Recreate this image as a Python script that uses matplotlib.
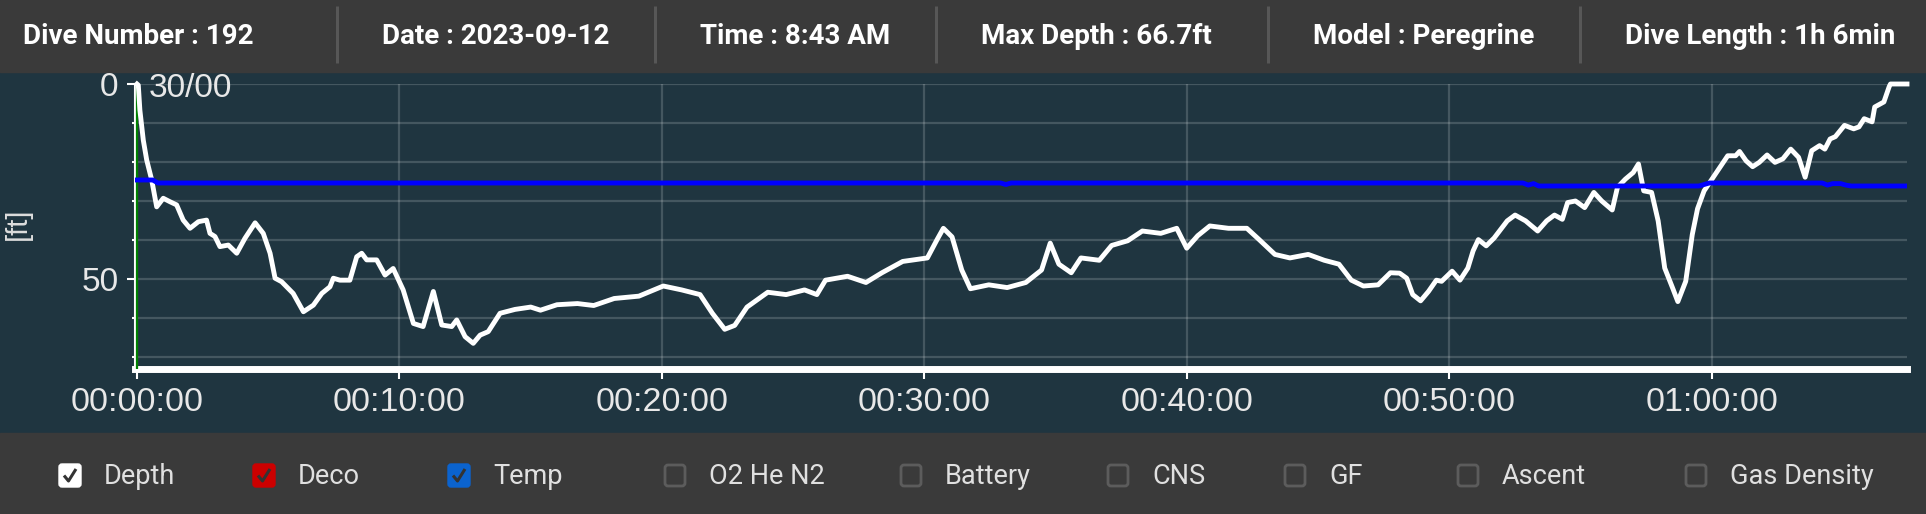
import matplotlib.pyplot as plt
from matplotlib.patches import Rectangle, FancyBboxPatch
from matplotlib.ticker import MultipleLocator, FuncFormatter

# header values
header_items = ['Dive Number : 192', 'Date : 2023-09-12', 'Time : 8:43 AM',
                'Max Depth : 66.7ft', 'Model : Peregrine', 'Dive Length : 1h 6min']

# depth profile (minutes, feet)
depth_t = [0.0, 0.05, 0.11, 0.24, 0.37, 0.56, 0.75, 1.0, 1.26, 1.51, 1.76, 2.02, 2.34, 2.65,
           2.78, 2.97, 3.16, 3.48, 3.8, 4.11, 4.5, 4.81, 5.07, 5.26, 5.51, 5.95, 6.34, 6.72,
           7.04, 7.35, 7.48, 7.73, 8.11, 8.37, 8.56, 8.75, 9.13, 9.45, 9.76, 10.14, 10.53,
           10.9, 11.29, 11.61, 11.99, 12.18, 12.5, 12.81, 13.07, 13.38, 13.83,
           14.4, 15.0, 15.37, 16.0, 16.78, 17.4, 18.18, 19.12, 20.05, 20.75, 21.45, 21.92,
           22.39, 22.77, 23.24, 24.03, 24.73, 25.43, 25.9, 26.23, 27.07, 27.77, 28.38, 29.17,
           30.11, 30.48, 30.72, 31.05, 31.42, 31.75, 32.45, 33.15, 33.86, 34.46, 34.79, 35.12,
           35.59, 35.96, 36.66, 37.13, 37.74, 38.3, 39.0, 39.61, 39.99, 40.41, 40.87, 41.58,
           42.28, 42.75, 43.35, 43.92, 44.62, 45.23, 45.79, 46.26, 46.72, 47.28, 47.75,
           48.1, 48.37, 48.6, 48.9, 49.2, 49.5, 49.7, 50.1, 50.4, 50.7, 50.9, 51.1, 51.4,
           51.7, 51.95, 52.2, 52.5, 52.9, 53.36, 53.7, 54.0, 54.3, 54.5, 54.8, 55.15, 55.5,
           55.8, 56.2, 56.4, 56.7, 57.0, 57.2, 57.4, 57.7, 57.95, 58.2, 58.5, 58.7, 59.0,
           59.25, 59.45, 59.7, 60.0, 60.3, 60.6, 60.9, 61.05, 61.3, 61.55, 61.8, 62.1, 62.4,
           62.7, 63.0, 63.3, 63.55, 63.8, 64.1, 64.3, 64.5, 64.7, 65.05, 65.4, 65.6, 65.8,
           66.1, 66.2, 66.55, 66.75, 66.8, 67.43]
depth_ft = [0.0, 0.3, 6.7, 14.4, 19.5, 24.6, 31.5, 29.3, 30.2, 31.0, 34.9, 37.0, 35.3, 34.9,
            38.3, 39.1, 41.7, 41.3, 43.4, 39.6, 35.6, 38.3, 43.4, 49.8, 50.7, 53.7, 58.4, 56.7,
            53.7, 52.0, 49.8, 50.3, 50.3, 44.3, 43.4, 45.1, 45.1, 49.0, 47.3, 52.8, 61.4,
            62.2, 53.2, 61.8, 62.2, 60.5, 64.8, 66.5, 64.4, 63.5, 58.8,
            57.8, 57.2, 58.0, 56.6, 56.3, 56.8, 55.0, 54.4, 51.8, 52.8, 54.0, 58.8,
            62.9, 61.9, 57.2, 53.4, 54.0, 52.8, 54.0, 50.3, 49.3, 50.9, 48.4, 45.5,
            44.6, 39.9, 37.0, 39.2, 47.7, 52.5, 51.5, 52.2, 50.9, 47.7, 40.8, 46.2,
            48.4, 44.6, 45.2, 41.4, 40.2, 37.7, 38.3, 37.0, 42.1, 38.9, 36.4, 37.0,
            37.0, 39.9, 43.7, 44.6, 43.7, 45.2, 46.2, 50.3, 51.8, 51.5, 48.4,
            48.5, 49.8, 54.0, 55.6, 53.2, 50.3, 50.6, 48.0, 50.3, 47.2, 42.8, 39.9, 41.5,
            39.5, 37.3, 35.1, 33.6, 35.1, 37.7, 35.1, 33.6, 34.7, 30.4, 30.0, 31.7, 27.8,
            30.0, 32.3, 26.5, 24.4, 22.7, 20.5, 27.4, 27.8, 35.1, 47.2, 52.3, 55.8, 50.6,
            38.6, 32.0, 27.4, 24.4, 21.4, 18.4, 18.4, 17.3, 19.7, 21.2, 20.1, 18.2, 20.1,
            19.2, 16.7, 18.8, 23.9, 17.1, 15.8, 16.7, 14.1, 13.5, 10.6, 11.5, 11.0, 8.9,
            9.7, 5.9, 4.6, 0.7, 0.0, 0.0]

# water temperature (minutes, degF)
temp_t = [0.0, 0.6, 0.8, 32.9, 33.1, 33.3, 52.8, 53.0, 53.2, 53.4, 59.5, 59.7, 59.9,
          64.2, 64.4, 64.6, 64.9, 65.1, 65.3, 67.43]
temp_f = [78, 78, 77, 77, 76.5, 77, 77, 76.3, 76.8, 76, 76, 76.5, 77,
          77, 76.3, 76.8, 76.8, 76.3, 76, 76]

# legend checkboxes
legend_labels = ['Depth', 'Deco', 'Temp', 'O2 He N2', 'Battery', 'CNS', 'GF', 'Ascent', 'Gas Density']
legend_colors = ['#ffffff', '#cc0000', '#0b63ce', None, None, None, None, None, None]

W, H = 1926, 514
plt.rcParams['font.family'] = ['Liberation Sans', 'DejaVu Sans']

fig = plt.figure(figsize=(W / 100, H / 100), dpi=100)
fig.patch.set_facecolor('#1f3540')

# background layer in pixel coords for header / footer
bg = fig.add_axes([0, 0, 1, 1])
bg.set_xlim(0, W)
bg.set_ylim(H, 0)
bg.axis('off')
bg.add_patch(Rectangle((0, 0), W, 72, color='#3a3a3a'))
bg.add_patch(Rectangle((0, 433), W, H - 433, color='#3a3a3a'))

sep_x = [337, 655, 936, 1268, 1580]
for x in sep_x:
    bg.plot([x, x], [6, 63], color='#575757', lw=2.2, solid_capstyle='butt')
header_x = [138, 496, 795, 1096, 1424, 1760]
for txt, cx in zip(header_items, header_x):
    bg.text(cx, 44, txt, ha='center', va='baseline', fontsize=20, fontweight='bold',
            family='Roboto', color='white')

box_x = [59, 253, 448, 664, 900, 1107, 1284, 1457, 1685]
for lab, col, bx in zip(legend_labels, legend_colors, box_x):
    if col:
        bg.add_patch(FancyBboxPatch((bx, 464), 22, 23, boxstyle='round,pad=0,rounding_size=3',
                                    facecolor=col, edgecolor=col, lw=1))
        bg.plot([bx + 5, bx + 9.5, bx + 17], [475.5, 481, 469], color='#333333', lw=2.2,
                solid_capstyle='butt')
    else:
        bg.add_patch(FancyBboxPatch((bx + 1, 465), 20, 21, boxstyle='round,pad=0,rounding_size=3',
                                    facecolor='none', edgecolor='#5c5c5c', lw=2))
    bg.text(bx + 45, 484, lab, ha='left', va='baseline', fontsize=19.5, family='Roboto',
            color='#e0e0e0')

# main chart
ax = fig.add_axes([135 / W, 1 - 369 / H, (1907 - 135) / W, (369 - 84) / H])
ax.set_facecolor('#1f3540')
ax.set_xlim(-0.076, 67.43)
ax.set_ylim(73.08, 0)

ax.set_xticks(range(0, 61, 10))
ax.xaxis.set_major_formatter(FuncFormatter(lambda v, p: f"{int(v // 60):02d}:{int(v % 60):02d}:00"))
ax.set_yticks([0, 50])
ax.yaxis.set_minor_locator(MultipleLocator(10))
ax.grid(which='both', axis='y', color='#ffffff', alpha=0.17, lw=1.6)
ax.grid(which='major', axis='x', color='#ffffff', alpha=0.17, lw=1.6)
ax.set_axisbelow(True)

for s in ['top', 'right']:
    ax.spines[s].set_visible(False)
ax.spines['left'].set_color('white')
ax.spines['left'].set_linewidth(1.5)
ax.spines['bottom'].set_color('white')
ax.spines['bottom'].set_linewidth(5)

ax.tick_params(axis='x', colors='white', labelcolor='#e8e8e8', labelsize=24.5, length=7, width=1.5, pad=6)
ax.tick_params(axis='y', which='major', colors='white', labelcolor='#e8e8e8', labelsize=24,
               length=6, width=1.5, pad=6)
ax.tick_params(axis='y', which='minor', colors='white', length=2.5, width=1.5)

ax.set_ylabel('[ft]', fontsize=21, color='#dddddd')
ax.yaxis.set_label_coords(-0.058, 0.509)

ax.axvline(0, color='#008000', lw=1.6, zorder=3)
ax.plot(depth_t, depth_ft, color='white', lw=3.5, solid_joinstyle='round', zorder=4, clip_on=False)
ax.text(149, 97, '30/00', ha='left', va='baseline', fontsize=24, color='#e8e8e8', transform=bg.transData)

ax2 = ax.twinx()
ax2.set_ylim(15, 110)
ax2.plot(temp_t, temp_f, color='#0000ff', lw=3.5, solid_joinstyle='round', zorder=5)
ax2.axis('off')

fig.savefig('out.png', dpi=100, facecolor=fig.get_facecolor())
